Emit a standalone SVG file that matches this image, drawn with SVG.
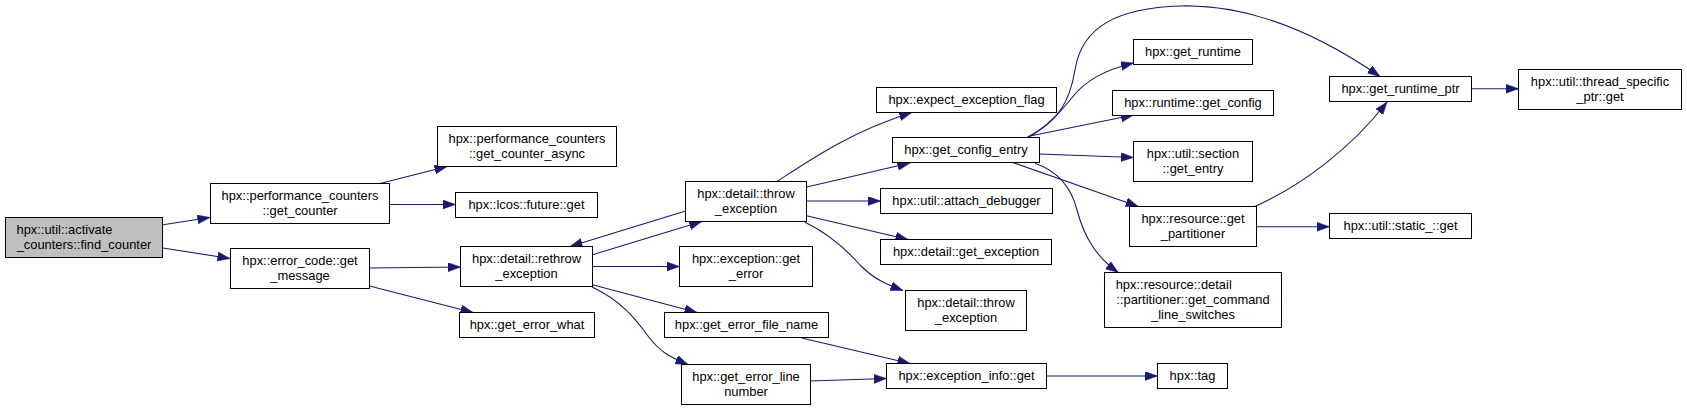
<svg xmlns="http://www.w3.org/2000/svg" width="1687" height="410" viewBox="0 0 1687 410">
<defs>
<style>
.n rect{fill:#ffffff;stroke:#000000;stroke-width:1}
.n.root rect{fill:#bfbfbf}
.n text{font-family:"Liberation Sans",Arial,sans-serif;font-size:12.9px;fill:#000000;text-anchor:middle}
.n text.l{text-anchor:start}
.e path{fill:none;stroke:#191970;stroke-width:1.1;marker-end:url(#arr)}
</style>
<marker id="arr" markerUnits="userSpaceOnUse" markerWidth="13" markerHeight="10" refX="12.5" refY="4.5" orient="auto">
<path d="M0,0 L12.5,4.5 L0,9 z" fill="#191970" stroke="#191970" stroke-width="0.5"/>
</marker>
</defs>
<rect width="1687" height="410" fill="#ffffff"/>
<g id="edges" class="e">
<path d="M163,224.7 L210,217.5"/>
<path d="M163,248 L230,258.5"/>
<path d="M380,183.5 L447,166.5"/>
<path d="M389.5,204.5 L455.5,204.5"/>
<path d="M369.5,268 L460.5,267"/>
<path d="M369.5,286 L473,312.5"/>
<path d="M592.5,254.7 L701.7,221.5"/>
<path d="M685.5,211 L570,246.5"/>
<path d="M592.5,266.5 L679.5,266.5"/>
<path d="M592.5,284.7 L697,312.5"/>
<path d="M592,287 C620,300 635,318 648,336 C660,352 670,357 688,364.5"/>
<path d="M777,181.5 C810,160 850,132 911.7,112.5"/>
<path d="M806.7,187 L910,163"/>
<path d="M806.5,201 L880.5,201"/>
<path d="M806.5,215.7 L908,239.5"/>
<path d="M805,222.3 C825,232 845,248 860,265 C875,280 888,285 903,290.5"/>
<path d="M801.7,338 L910,363.5"/>
<path d="M810.5,381 L886.5,378.5"/>
<path d="M1046.5,376 L1157.5,376"/>
<path d="M1028,137.5 C1050,125 1060,112 1070,100 C1085,80 1105,70 1133.5,63"/>
<path d="M1030,136 L1133.5,115"/>
<path d="M1039.5,154 L1133.5,157.5"/>
<path d="M1013.3,162.7 L1138.3,206.5"/>
<path d="M1035,163.3 C1060,172 1072,190 1077,210 C1085,240 1098,258 1118.3,272.5"/>
<path d="M1027,137.5 C1060,120 1070,100 1075,70 C1082,25 1120,8 1180,6 C1250,4 1320,35 1380,76.5"/>
<path d="M1255,206.5 C1300,186 1350,150 1387,102"/>
<path d="M1256.5,226.7 L1329.5,226.7"/>
<path d="M1471.5,88.7 L1518.5,88.7"/>
</g>
<g id="find_counter" class="n root"><rect x="5.5" y="217.5" width="157" height="40"/><text class="l" x="16.5" y="234.2">hpx::util::activate</text><text x="84" y="248.9">_counters::find_counter</text></g>
<g id="get_counter" class="n"><rect x="210.5" y="183.5" width="179" height="40"/><text x="300" y="200.2">hpx::performance_counters</text><text x="300" y="214.9">::get_counter</text></g>
<g id="get_message" class="n"><rect x="230.5" y="248.5" width="139" height="40"/><text x="300" y="265.2">hpx::error_code::get</text><text x="300" y="279.9">_message</text></g>
<g id="get_counter_async" class="n"><rect x="437.5" y="126.5" width="179" height="40"/><text x="527" y="143.2">hpx::performance_counters</text><text x="527" y="157.9">::get_counter_async</text></g>
<g id="future_get" class="n"><rect x="455.5" y="192.5" width="142" height="25"/><text x="526.5" y="209">hpx::lcos::future::get</text></g>
<g id="rethrow_exception" class="n"><rect x="460.5" y="246.5" width="132" height="40"/><text x="526.5" y="263.2">hpx::detail::rethrow</text><text x="526.5" y="277.9">_exception</text></g>
<g id="get_error_what" class="n"><rect x="459.5" y="312.5" width="135" height="25"/><text x="527" y="329">hpx::get_error_what</text></g>
<g id="throw_exception_a" class="n"><rect x="685.5" y="181.5" width="121" height="40"/><text x="746" y="198.2">hpx::detail::throw</text><text x="746" y="212.9">_exception</text></g>
<g id="exception_get_error" class="n"><rect x="679.5" y="246.5" width="133" height="40"/><text x="746" y="263.2">hpx::exception::get</text><text x="746" y="277.9">_error</text></g>
<g id="get_error_file_name" class="n"><rect x="664.5" y="312.5" width="164" height="25"/><text x="746.5" y="329">hpx::get_error_file_name</text></g>
<g id="get_error_line_number" class="n"><rect x="681.5" y="364.5" width="129" height="40"/><text x="746" y="381.2">hpx::get_error_line</text><text x="746" y="395.9">number</text></g>
<g id="expect_exception_flag" class="n"><rect x="876.5" y="87.5" width="180" height="25"/><text x="966.5" y="104">hpx::expect_exception_flag</text></g>
<g id="get_config_entry" class="n"><rect x="892.5" y="137.5" width="147" height="25"/><text x="966" y="154">hpx::get_config_entry</text></g>
<g id="attach_debugger" class="n"><rect x="880.5" y="188.5" width="172" height="25"/><text x="966.5" y="205">hpx::util::attach_debugger</text></g>
<g id="detail_get_exception" class="n"><rect x="880.5" y="239.5" width="171" height="25"/><text x="966" y="256">hpx::detail::get_exception</text></g>
<g id="throw_exception_b" class="n"><rect x="905.5" y="290.5" width="121" height="40"/><text x="966" y="307.2">hpx::detail::throw</text><text x="966" y="321.9">_exception</text></g>
<g id="exception_info_get" class="n"><rect x="886.5" y="363.5" width="160" height="25"/><text x="966.5" y="380">hpx::exception_info::get</text></g>
<g id="tag" class="n"><rect x="1157.5" y="363.5" width="70" height="25"/><text x="1192.5" y="380">hpx::tag</text></g>
<g id="get_runtime" class="n"><rect x="1133.5" y="39.5" width="119" height="25"/><text x="1193" y="56">hpx::get_runtime</text></g>
<g id="runtime_get_config" class="n"><rect x="1112.5" y="90.5" width="161" height="25"/><text x="1193" y="107">hpx::runtime::get_config</text></g>
<g id="section_get_entry" class="n"><rect x="1133.5" y="141.5" width="119" height="40"/><text x="1193" y="158.2">hpx::util::section</text><text x="1193" y="172.9">::get_entry</text></g>
<g id="get_partitioner" class="n"><rect x="1129.5" y="206.5" width="127" height="40"/><text x="1193" y="223.2">hpx::resource::get</text><text x="1193" y="237.9">_partitioner</text></g>
<g id="get_command_line_switches" class="n"><rect x="1104.5" y="272.5" width="177" height="55"/><text class="l" x="1115.7" y="289.3">hpx::resource::detail</text><text x="1193" y="304">::partitioner::get_command</text><text x="1193" y="318.7">_line_switches</text></g>
<g id="get_runtime_ptr" class="n"><rect x="1329.5" y="76.5" width="142" height="25"/><text x="1400.5" y="93">hpx::get_runtime_ptr</text></g>
<g id="thread_specific_ptr_get" class="n"><rect x="1518.5" y="69.5" width="163" height="40"/><text x="1600" y="86.2">hpx::util::thread_specific</text><text x="1600" y="100.9">_ptr::get</text></g>
<g id="static_get" class="n"><rect x="1329.5" y="213.5" width="142" height="25"/><text x="1400.5" y="230">hpx::util::static_::get</text></g>
</svg>
